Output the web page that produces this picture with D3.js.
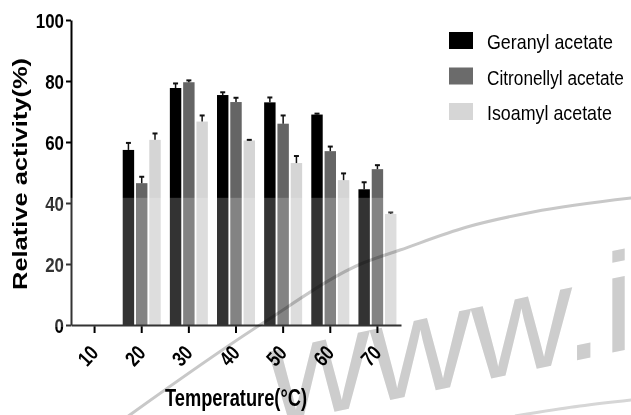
<!DOCTYPE html>
<html><head><meta charset="utf-8">
<script src="https://cdn.jsdelivr.net/npm/d3@7"></script>
<style>body{margin:0;background:#fff}svg{display:block}</style></head>
<body>
<svg id="c" width="631" height="415"></svg>
<script>
// ---- data ----
const temps = ["10", "20", "30", "40", "50", "60", "70"];
const seriesNames = ["Geranyl acetate", "Citronellyl acetate", "Isoamyl acetate"];
const geranyl      = [null, 57.4, 77.7, 75.4, 73.0, 69.0, 44.5];
const geranylErr   = [null, 2.3, 1.5, 0.9, 1.6, 0.3, 2.3];
const citronellyl  = [null, 46.5, 79.6, 73.1, 66.0, 57.0, 51.1];
const citronellylErr = [null, 2.1, 0.6, 1.4, 2.7, 1.5, 1.3];
const isoamyl      = [null, 60.7, 66.7, 60.5, 53.1, 47.5, 36.4];
const isoamylErr   = [null, 2.1, 2.0, 0.2, 2.3, 2.2, 0.5];
const yTicks = [0, 20, 40, 60, 80, 100];

// ---- styles ----
const colors = ["#000000", "#656565", "#d5d5d5"];
const legendColors = ["#000000", "#6b6b6b", "#d6d6d6"];
const fontBold = "'Liberation Sans', Arial, sans-serif";

const values = [geranyl, citronellyl, isoamyl];
const errs = [geranylErr, citronellylErr, isoamylErr];
const rows = [];
temps.forEach((t, i) => seriesNames.forEach((s, k) => {
  if (values[k][i] != null) rows.push({t, s, k, v: values[k][i], e: errs[k][i]});
}));

const svg = d3.select("#c");
const x = d3.scaleBand().domain(temps).range([71, 401]);
const x1 = d3.scaleBand().domain(seriesNames).range([-19, 19]).paddingInner(0.14);
const y = d3.scaleLinear().domain([0, 100]).range([325, 20]);

// bars
const gBars = svg.append("g");
gBars.selectAll("rect").data(rows).join("rect")
  .attr("x", d => x(d.t) + x.bandwidth() / 2 + x1(d.s))
  .attr("width", x1.bandwidth())
  .attr("y", d => y(d.v))
  .attr("height", d => y(0) - y(d.v))
  .attr("fill", d => colors[d.k]);

// error bars (upper only)
const gErr = svg.append("g").attr("stroke", "#111");
rows.forEach(d => {
  const cx = x(d.t) + x.bandwidth() / 2 + x1(d.s) + x1.bandwidth() / 2;
  gErr.append("line").attr("x1", cx).attr("x2", cx)
    .attr("y1", y(d.v)).attr("y2", y(d.v + d.e)).attr("stroke-width", 1.5);
  gErr.append("line").attr("x1", cx - 2.5).attr("x2", cx + 2.5)
    .attr("y1", y(d.v + d.e)).attr("y2", y(d.v + d.e)).attr("stroke-width", 2);
});

// axes
const yAxis = svg.append("g").attr("transform", "translate(71,0)")
  .call(d3.axisLeft(y).tickValues(yTicks).tickSize(5).tickSizeOuter(0).tickPadding(2));
const xAxis = svg.append("g").attr("transform", "translate(0,325)")
  .call(d3.axisBottom(x).tickSize(8).tickSizeOuter(0));
[yAxis, xAxis].forEach(a => {
  a.select(".domain").attr("stroke", "#000").attr("stroke-width", 2);
  a.selectAll(".tick line").attr("stroke", "#000").attr("stroke-width", 2);
});
yAxis.selectAll(".tick text")
  .attr("font-family", fontBold).attr("font-weight", "bold").attr("font-size", 21)
  .attr("fill", "#000").attr("dy", "0.36em")
  .attr("lengthAdjust", "spacingAndGlyphs")
  .attr("textLength", function() { return this.textContent.length * 9.4; });
xAxis.selectAll(".tick text")
  .attr("font-family", fontBold).attr("font-weight", "bold").attr("font-size", 21)
  .attr("fill", "#000").attr("text-anchor", "end")
  .attr("y", 0).attr("dy", 0)
  .attr("transform", "translate(5,29) rotate(-47)")
  .attr("lengthAdjust", "spacingAndGlyphs")
  .attr("textLength", function() { return this.textContent.length * 9.2; });

// axis titles
svg.append("text").attr("x", 236).attr("y", 406).attr("text-anchor", "middle")
  .attr("font-family", fontBold).attr("font-weight", "bold").attr("font-size", 23)
  .attr("lengthAdjust", "spacingAndGlyphs").attr("textLength", 142)
  .text("Temperature(°C)");
svg.append("text").attr("transform", "translate(27,174) rotate(-90)").attr("text-anchor", "middle")
  .attr("font-family", fontBold).attr("font-weight", "bold").attr("font-size", 20)
  .attr("lengthAdjust", "spacingAndGlyphs").attr("textLength", 232)
  .text("Relative activity(%)");

// legend (condensed type, done by horizontal scaling)
const legendW = [126, 137, 125];
const lg = svg.append("g");
seriesNames.forEach((s, k) => {
  const by = 49 + k * 35.5;
  lg.append("rect").attr("x", 449).attr("y", by - 17).attr("width", 24).attr("height", 17)
    .attr("fill", legendColors[k]);
  const t = lg.append("text").attr("x", 0).attr("y", 0)
    .attr("font-family", fontBold).attr("font-size", 21)
    .text(s);
  const natural = t.node().getComputedTextLength();
  t.attr("transform", `translate(487,${by}) scale(${legendW[k] / natural},1)`);
});

// washed-out lower band of the image (20% white)
svg.append("rect").attr("x", 33).attr("y", y(41.7)).attr("width", 369)
  .attr("height", 327 - y(41.7)).attr("fill", "#fff").attr("opacity", 0.2);

// faint watermark
const wm = svg.append("g").style("mix-blend-mode", "multiply");
wm.append("text").attr("transform", "translate(268.6,425.7) skewY(-12)")
  .attr("font-family", "'Liberation Sans', Arial, sans-serif").attr("font-size", 140)
  .attr("fill", "#cdcdcd").text("www.i");
wm.append("path")
  .attr("d", d3.line().curve(d3.curveMonotoneX)([[120, 422], [263, 323], [363, 263], [400, 250], [467, 227], [533, 212], [640, 197]]))
  .attr("fill", "none").attr("stroke", "#c8c8c8").attr("stroke-width", 3);
wm.append("path")
  .attr("d", d3.line().curve(d3.curveMonotoneX)([[515, 416], [580, 406], [640, 399]]))
  .attr("fill", "none").attr("stroke", "#d6d6d6").attr("stroke-width", 3);
</script>
</body></html>
